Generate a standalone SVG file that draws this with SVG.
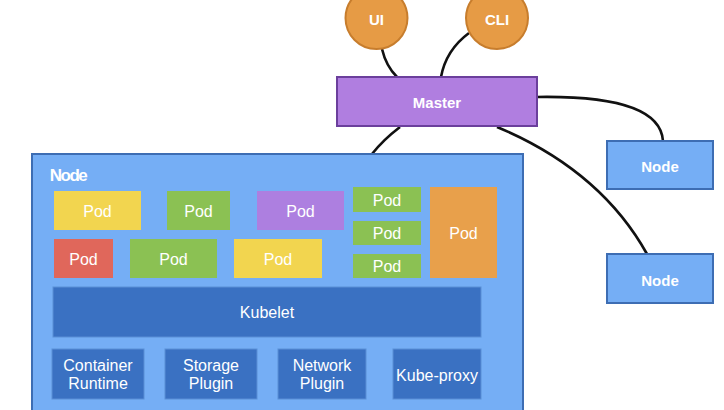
<svg xmlns="http://www.w3.org/2000/svg" width="724" height="410" viewBox="0 0 724 410">
<style>
text{font-family:"Liberation Sans",Arial,sans-serif;fill:#fff;text-anchor:middle;dominant-baseline:central}
.b{font-weight:bold;font-size:15px}
.p{font-size:16px}
.c{fill:none;stroke:#111;stroke-width:2.6}
.circ{fill:#e69b45;stroke:#c77d2d;stroke-width:2}
.sub{fill:#3a71c2;stroke:#5a8fd6;stroke-width:1}
.nd{fill:#75aef5;stroke:#3d6db3;stroke-width:2}
</style>
<rect width="724" height="410" fill="#fff"/>
<g id="connectors">
<path class="c" d="M382,49 Q386,66 397,77"/>
<path class="c" d="M469,33 Q446,50 441,77"/>
<path class="c" d="M400,127 Q383,140 372,154"/>
<path class="c" d="M537,97 Q660,95 663,141"/>
<path class="c" d="M497,127 Q600,170 647,254"/>
</g>
<g id="ui"><circle class="circ" cx="376.5" cy="18" r="31"/><text class="b" x="376.5" y="19">UI</text></g>
<g id="cli"><circle class="circ" cx="497" cy="18" r="31"/><text class="b" x="497" y="19">CLI</text></g>
<g id="master"><rect x="337" y="77" width="200" height="49" fill="#b07ee0" stroke="#6b3f9c" stroke-width="2"/><text class="b" x="437" y="102">Master</text></g>
<g id="node1"><rect class="nd" x="607" y="141" width="106" height="48"/><text class="b" x="660" y="166">Node</text></g>
<g id="node2"><rect class="nd" x="607" y="254" width="106" height="49"/><text class="b" x="660" y="280">Node</text></g>
<g id="node-main">
<rect class="nd" x="32" y="154" width="491" height="270"/>
<text x="68" y="175" style="font-weight:bold;font-size:17px;letter-spacing:-1.5px">Node</text>
<g id="pod1"><rect x="54" y="191" width="87" height="39" fill="#f2d54f"/><text class="p" x="97.5" y="211">Pod</text></g>
<g id="pod2"><rect x="167" y="191" width="63" height="39" fill="#8bc153"/><text class="p" x="198.5" y="211">Pod</text></g>
<g id="pod3"><rect x="257" y="191" width="87" height="39" fill="#ad7fe0"/><text class="p" x="300.5" y="211">Pod</text></g>
<g id="pod4"><rect x="353" y="187" width="68" height="25" fill="#8bc153"/><text class="p" x="387" y="200">Pod</text></g>
<g id="pod5"><rect x="353" y="221" width="68" height="24" fill="#8bc153"/><text class="p" x="387" y="233">Pod</text></g>
<g id="pod6"><rect x="353" y="254" width="68" height="24" fill="#8bc153"/><text class="p" x="387" y="266">Pod</text></g>
<g id="pod7"><rect x="430" y="187" width="67" height="91" fill="#e8a04b"/><text class="p" x="463.5" y="233">Pod</text></g>
<g id="pod8"><rect x="54" y="239" width="59" height="39" fill="#e0675b"/><text class="p" x="83.5" y="259">Pod</text></g>
<g id="pod9"><rect x="130" y="239" width="87" height="39" fill="#8bc153"/><text class="p" x="173.5" y="259">Pod</text></g>
<g id="pod10"><rect x="234" y="239" width="88" height="39" fill="#f2d54f"/><text class="p" x="278" y="259">Pod</text></g>
<g id="kubelet"><rect class="sub" x="53" y="287" width="428" height="50"/><text class="p" x="267" y="312">Kubelet</text></g>
<g id="container-runtime"><rect class="sub" x="52" y="349" width="92" height="50"/><text class="p" x="98" y="365">Container</text><text class="p" x="98" y="383">Runtime</text></g>
<g id="storage-plugin"><rect class="sub" x="165" y="349" width="92" height="50"/><text class="p" x="211" y="365">Storage</text><text class="p" x="211" y="383">Plugin</text></g>
<g id="network-plugin"><rect class="sub" x="278" y="349" width="88" height="50"/><text class="p" x="322" y="365">Network</text><text class="p" x="322" y="383">Plugin</text></g>
<g id="kube-proxy"><rect class="sub" x="393" y="349" width="88" height="50"/><text class="p" x="437" y="375">Kube-proxy</text></g>
</g>
</svg>
